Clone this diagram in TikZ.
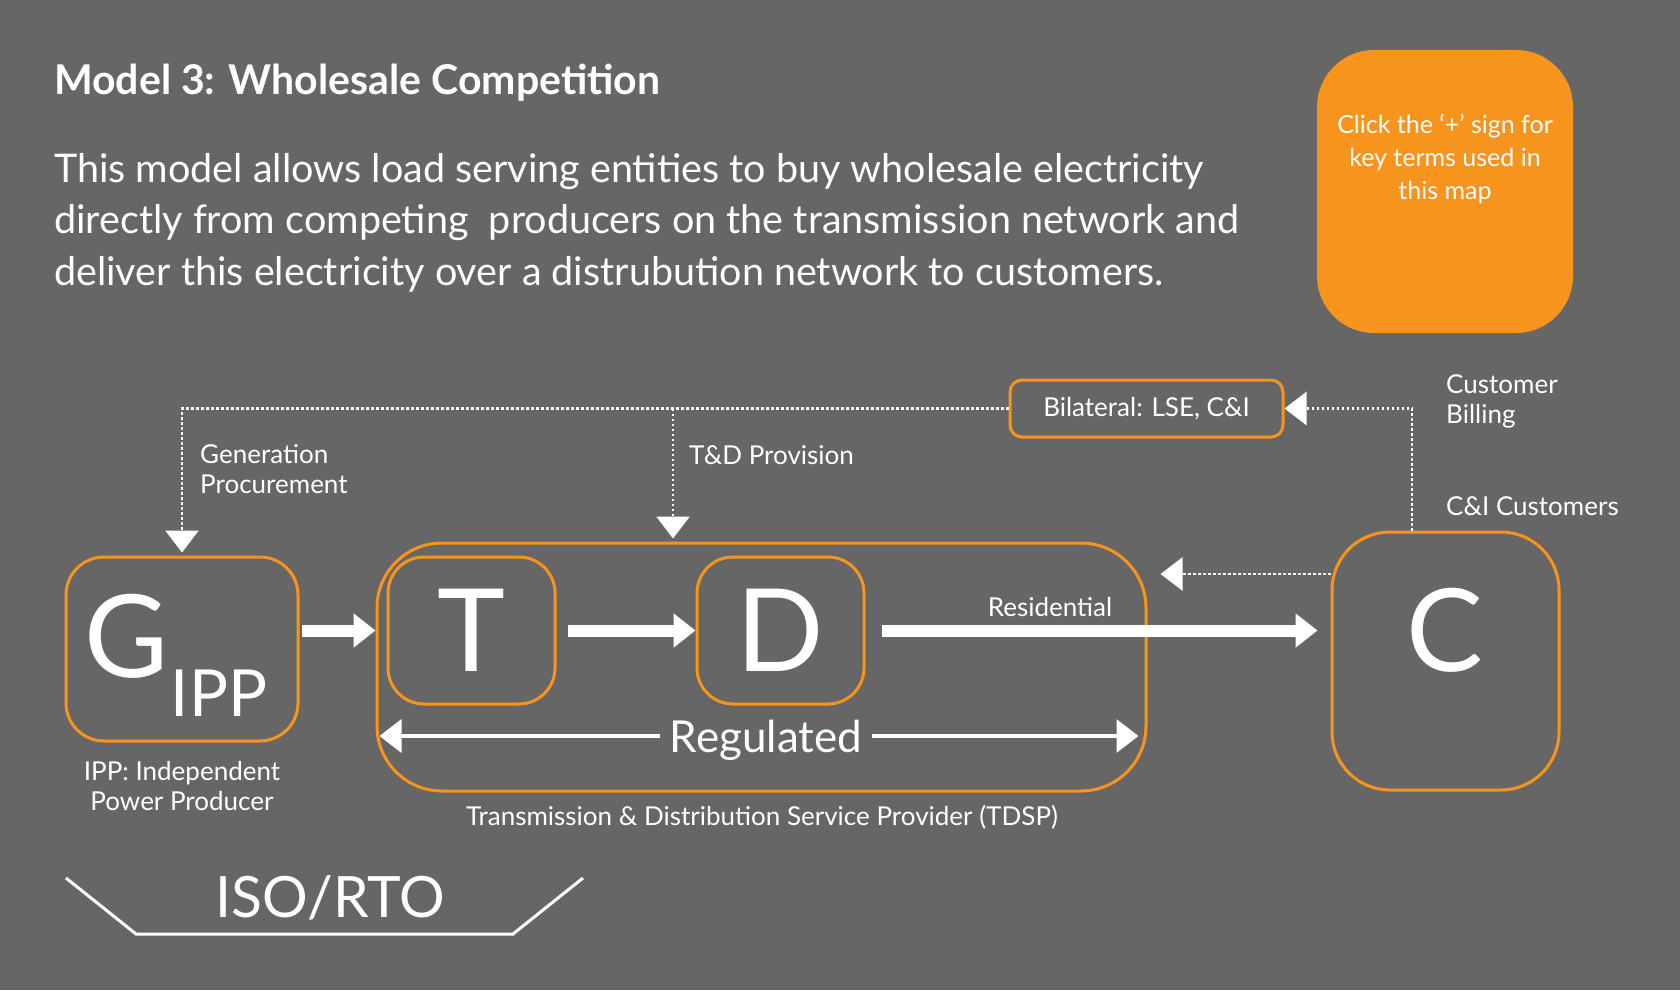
\documentclass[tikz,border=0pt]{standalone}
\usepackage{fontspec}
\setmainfont{Lato}
\usetikzlibrary{arrows.meta}
\definecolor{bggray}{HTML}{666666}
\definecolor{boxorange}{HTML}{F7941D}
\begin{document}
\begin{tikzpicture}[x=1pt,y=-1pt,>={Triangle[length=22pt,width=33pt]},text=white,
	box/.style={draw=boxorange,line width=3pt,rounded corners=#1},
	fat/.style={->,white,line width=12pt},
	dots/.style={->,white,line width=2.5pt,dash pattern=on 2.5pt off 2.5pt},
	lbl/.style={inner sep=0pt,font=\fontsize{26}{30}\selectfont}]
	\fill[bggray] (0,0) rectangle (1680,990);
	\node[anchor=base west,inner sep=0pt,font=\fontsize{41}{46}\selectfont\bfseries] (title) at (54,94) {Model 3: Wholesale Competition};
	\node[anchor=base west,align=left,inner sep=0pt,font=\fontsize{39.5}{51.5}\selectfont] (intro) at (54,285) {This model allows load serving entities to buy wholesale electricity\\directly from competing\ \ producers on the transmission network and\\deliver this electricity over a distrubution network to customers.};
	\node[fill=boxorange,rounded corners=57pt,minimum width=256pt,minimum height=283pt] (key) at (1445,191.5) {};
	\node[anchor=base,align=center,inner sep=0pt,font=\fontsize{25}{33}\selectfont] (keytxt) at (1445,199) {Click the ‘+’ sign for\\key terms used in\\this map};
	\node[box=38pt,minimum width=232pt,minimum height=184pt] (G) at (182,649) {};
	\node[inner sep=0pt,font=\fontsize{115}{115}\selectfont] (Gl) at (127,636) {G};
	\node[inner sep=0pt,font=\fontsize{65}{65}\selectfont] (ipp) at (219,693) {IPP};
	\node[box=65pt,minimum width=769pt,minimum height=248pt] (TDSP) at (761.5,667) {};
	\node[box=36pt,minimum width=167pt,minimum height=147pt,font=\fontsize{115}{115}\selectfont] (T) at (471.5,630.5) {T};
	\node[box=36pt,minimum width=167pt,minimum height=147pt,font=\fontsize{115}{115}\selectfont] (D) at (780.5,630.5) {D};
	\node[box=58pt,minimum width=227pt,minimum height=258pt] (C) at (1445.5,661) {};
	\node[inner sep=0pt,font=\fontsize{115}{115}\selectfont] (Cl) at (1445,630) {C};
	\node[box=12pt,minimum width=273pt,minimum height=57pt,font=\fontsize{26}{30}\selectfont] (bil) at (1146.5,408.5) {Bilateral: LSE, C\&I};
	\draw[fat,shorten <=2pt] (G.east |- T.west) -- (TDSP.west |- T.west);
	\draw[fat,shorten <=11pt] (T.east) -- (D.west);
	\draw[fat,shorten <=16pt,shorten >=13pt] (D.east) -- (C.west |- D.east);
	\node[lbl,anchor=base] (res) at (1050,616) {Residential};
	\node[inner xsep=10pt,inner ysep=0pt,text depth=0pt,font=\fontsize{44}{44}\selectfont] (reg) at (766,736) {Regulated};
	\draw[->,white,line width=3.5pt,shorten >=4pt] (reg.west) -- (reg.west -| TDSP.west);
	\draw[->,white,line width=3.5pt,shorten >=9pt] (reg.east) -- (reg.east -| TDSP.east);
	\draw[dots,shorten >=3pt] (bil.west) -| (G.north);
	\coordinate (tdx) at (673,0);
	\draw[dots,shorten >=3pt] (tdx |- bil.west) -- (tdx |- TDSP.north);
	\coordinate (cbx) at (1412,0);
	\draw[dots] (cbx |- C.north) |- (bil.east);
	\coordinate (cly) at (0,574);
	\draw[dots,shorten >=13pt] (C.west |- cly) -- (TDSP.east |- cly);
	\node[lbl,anchor=base west,align=left] (gen) at (200,493) {Generation\\Procurement};
	\node[lbl,anchor=base west] (tdp) at (689,464) {T\&D Provision};
	\node[lbl,anchor=base west,align=left] (bill) at (1446,423) {Customer\\Billing};
	\node[lbl,anchor=base west] (ci) at (1446,515) {C\&I Customers};
	\node[lbl,anchor=base,align=center] (ippl) at (182,810) {IPP: Independent\\Power Producer};
	\node[lbl,anchor=base] (tdsp) at (762,825) {Transmission \& Distribution Service Provider (TDSP)};
	\draw[white,line width=3pt] (66,878) -- (136,934) -- (513,934) -- (583,878);
	\node[anchor=base,inner sep=0pt,font=\fontsize{57}{57}\selectfont] (iso) at (330,917) {ISO/RTO};
\end{tikzpicture}
\end{document}
